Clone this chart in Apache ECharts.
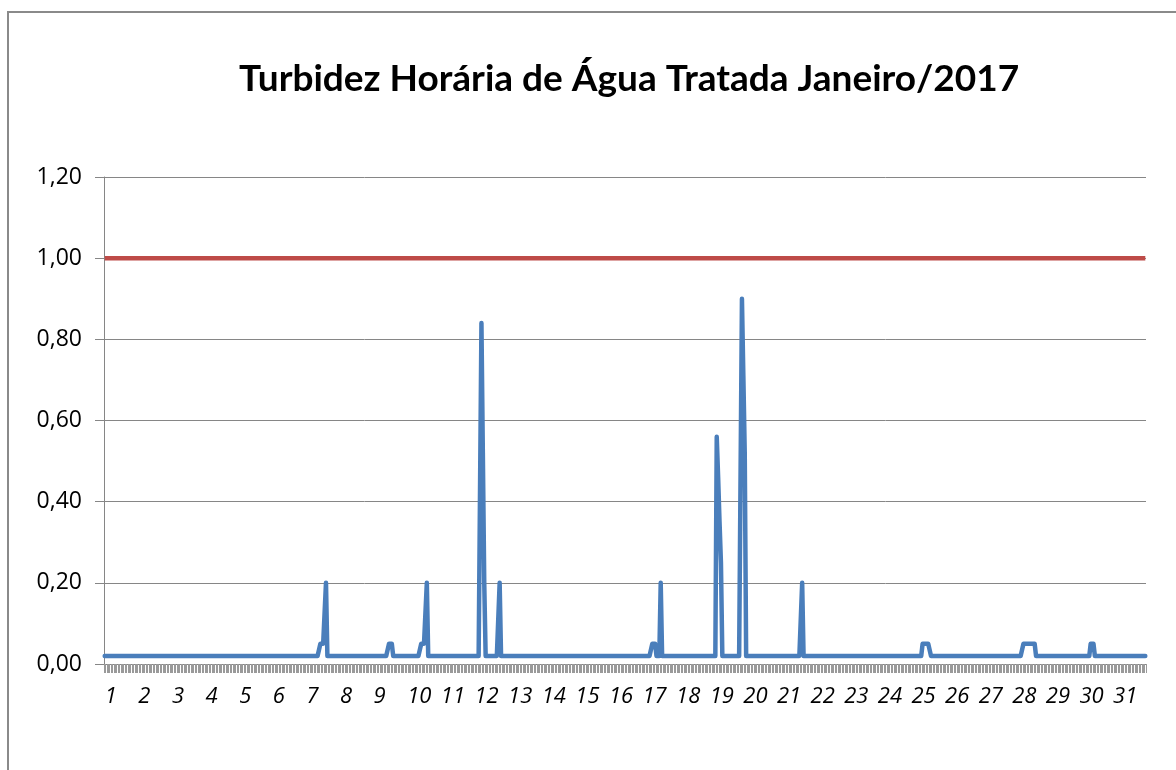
<!DOCTYPE html>
<html>
<head>
<meta charset="utf-8">
<title>Turbidez Horária</title>
<script src="https://cdn.jsdelivr.net/npm/echarts@6/dist/echarts.min.js"></script>
<style>
  html, body { margin: 0; padding: 0; background: #fff; }
  #chart { width: 1176px; height: 770px; }
</style>
</head>
<body>
<div id="chart"></div>
<script>
  // dias do mês (rótulo a cada 24 horas)
  var days = [1, 2, 3, 4, 5, 6, 7, 8, 9, 10, 11, 12, 13, 14, 15, 16, 17, 18, 19, 20,
    21, 22, 23, 24, 25, 26, 27, 28, 29, 30, 31]
  var hoursPerDay = 24

  // turbidez base (NTU) na maior parte das horas
  var baseTurbidity = 0.02
  // horas (índice desde 01/01 00h) fora da base e respectivos valores lidos
  var eventHours = [154, 155, 156, 157, 158,
    203, 204, 205,
    226, 227, 228, 229, 230,
    269, 270, 271, 282,
    391, 392, 393, 397,
    437, 438, 439, 440,
    455, 456, 457, 498,
    584, 585, 586, 587, 588, 589,
    656, 657, 658, 659, 660, 661, 662, 663, 664,
    704, 705, 706]
  var eventValues = [0.05, 0.05, 0.05, 0.05, 0.20,
    0.05, 0.05, 0.05,
    0.05, 0.05, 0.05, 0.05, 0.20,
    0.84, 0.52, 0.20, 0.20,
    0.05, 0.05, 0.05, 0.20,
    0.56, 0.46, 0.35, 0.25,
    0.90, 0.71, 0.52, 0.20,
    0.05, 0.05, 0.05, 0.05, 0.05, 0.05,
    0.05, 0.05, 0.05, 0.05, 0.05, 0.05, 0.05, 0.05, 0.05,
    0.05, 0.05, 0.05]
  // limite máximo (VMP)
  var limitValue = 1.00
  var yTicks = [0, 0.2, 0.4, 0.6, 0.8, 1.0, 1.2]

  var categories = []
  var turbidity = []
  var limit = []
  days.forEach(function (d) {
    for (var h = 0; h < hoursPerDay; h++) {
      categories.push(d + ' ' + h + 'h')
      turbidity.push(baseTurbidity)
      limit.push(limitValue)
    }
  })
  eventHours.forEach(function (hr, k) {
    turbidity[hr] = eventValues[k]
  })

  var myChart = echarts.init(document.getElementById('chart'), null, { renderer: 'canvas' })
  myChart.setOption({
    animation: false,
    backgroundColor: '#fff',
    title: {
      text: 'Turbidez Horária de Água Tratada Janeiro/2017',
      left: 234,
      top: 56,
      textStyle: {
        fontFamily: 'Lato',
        fontWeight: 'bold',
        fontSize: 37,
        color: '#000'
      }
    },
    graphic: [{
      type: 'rect',
      shape: { x: 8, y: 12, width: 1220, height: 820 },
      style: { fill: null, stroke: '#8a8a8a', lineWidth: 2 },
      silent: true
    }],
    grid: {
      left: 104,
      right: 30,
      top: 177,
      bottom: 106
    },
    xAxis: {
      type: 'category',
      data: categories,
      boundaryGap: true,
      axisLine: { lineStyle: { color: '#868686', width: 1 } },
      axisTick: {
        show: true,
        interval: 0,
        length: 9,
        lineStyle: { color: '#9a9a9a', width: 1 }
      },
      axisLabel: {
        interval: hoursPerDay - 1,
        align: 'left',
        margin: 22,
        fontFamily: 'Open Sans',
        fontStyle: 'italic',
        fontSize: 22,
        color: '#000',
        formatter: function (v) {
          return v.split(' ')[0]
        }
      },
      splitLine: { show: false }
    },
    yAxis: {
      type: 'value',
      min: yTicks[0],
      max: yTicks[yTicks.length - 1],
      interval: 0.2,
      axisLine: { show: true, lineStyle: { color: '#868686', width: 1 } },
      axisTick: { show: true, length: 9, lineStyle: { color: '#868686' } },
      axisLabel: {
        margin: 22,
        fontFamily: 'Open Sans',
        fontSize: 23,
        color: '#000',
        formatter: function (v) {
          return v.toFixed(2).replace('.', ',')
        }
      },
      splitLine: { show: true, lineStyle: { color: '#868686', width: 1 } }
    },
    series: [
      {
        name: 'Turbidez',
        type: 'line',
        data: turbidity,
        showSymbol: false,
        sampling: null,
        lineStyle: { color: '#4A7EBB', width: 4.5, cap: 'round', join: 'round' },
        z: 3
      },
      {
        name: 'Limite',
        type: 'line',
        data: limit,
        showSymbol: false,
        lineStyle: { color: '#BE4B48', width: 4.5 },
        z: 2
      }
    ]
  })
</script>
</body>
</html>
